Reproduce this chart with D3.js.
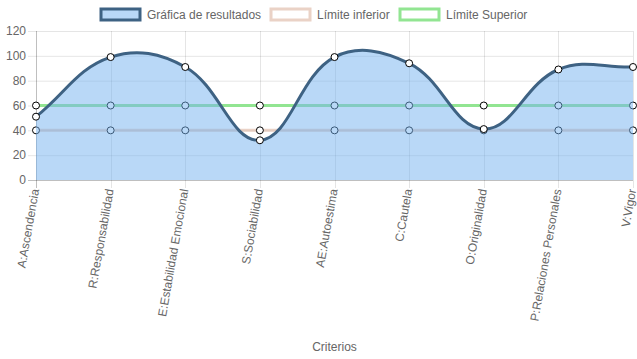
<!DOCTYPE html>
<html><head><meta charset="utf-8">
<script src="https://cdn.jsdelivr.net/npm/d3@7"></script>
<style>body{margin:0;background:#fff}svg{display:block}text{font-family:"Liberation Sans",Arial,sans-serif}</style>
</head><body><svg id="c" width="637" height="359"></svg>
<script>
const categories = ["A:Ascendencia","R:Responsabilidad","E:Estabilidad Emocional","S:Sociabilidad","AE:Autoestima","C:Cautela","O:Originalidad","P:Relaciones Personales","V:Vigor"];
const resultados = [51, 99, 91, 32, 99, 94, 41, 89, 91];
const limiteInferior = [40, 40, 40, 40, 40, 40, 40, 40, 40];
const limiteSuperior = [60, 60, 60, 60, 60, 60, 60, 60, 60];
const yTicks = [0, 20, 40, 60, 80, 100, 120];
const seriesNames = ["Gráfica de resultados", "Límite inferior", "Límite Superior"];

const svg = d3.select("#c");
const L = 36, R = 633, T = 31, B = 180;
const x = d3.scalePoint().domain(categories).range([L, R]);
const y = d3.scaleLinear().domain([0, 120]).range([B, T]);
const grey = "#666";

// grid
const g = svg.append("g");
g.selectAll(".hg").data(yTicks).join("line")
  .attr("x1", L - 8).attr("x2", R).attr("y1", d => y(d) + 0.5).attr("y2", d => y(d) + 0.5)
  .attr("stroke", d => d === 0 ? "rgba(0,0,0,0.25)" : "rgba(0,0,0,0.1)");
g.selectAll(".vg").data(categories).join("line")
  .attr("x1", d => Math.round(x(d)) + 0.5).attr("x2", d => Math.round(x(d)) + 0.5)
  .attr("y1", T).attr("y2", B + 8)
  .attr("stroke", (d, i) => i === 0 ? "rgba(0,0,0,0.25)" : "rgba(0,0,0,0.1)");

// y labels
svg.append("g").selectAll("text").data(yTicks).join("text")
  .attr("x", 26).attr("y", d => y(d)).attr("dy", "0.35em")
  .attr("text-anchor", "end").attr("font-size", 12).attr("fill", grey).text(d => d);

// x labels
svg.append("g").selectAll("text").data(categories).join("text")
  .attr("transform", d => `translate(${x(d) - 1},${B + 9}) rotate(-80)`)
  .attr("text-anchor", "end").attr("dy", "0.35em")
  .attr("font-size", 12).attr("fill", grey).text(d => d);

svg.append("text").attr("x", (L + R) / 2).attr("y", 351).attr("text-anchor", "middle")
  .attr("font-size", 12).attr("fill", grey).text("Criterios");

// Chart.js-like spline
function splinePath(vals) {
  const pts = vals.map((v, i) => [x(categories[i]), y(v)]);
  const t = 0.4;
  const cps = pts.map((p, i) => {
    const p0 = pts[i - 1] || p, p2 = pts[i + 1] || p;
    const d01 = Math.hypot(p[0] - p0[0], p[1] - p0[1]);
    const d12 = Math.hypot(p2[0] - p[0], p2[1] - p[1]);
    let s01 = d01 / (d01 + d12), s12 = d12 / (d01 + d12);
    if (isNaN(s01)) s01 = 0; if (isNaN(s12)) s12 = 0;
    const fa = t * s01, fb = t * s12;
    return {
      prev: [p[0] - fa * (p2[0] - p0[0]), p[1] - fa * (p2[1] - p0[1])],
      next: [p[0] + fb * (p2[0] - p0[0]), p[1] + fb * (p2[1] - p0[1])]
    };
  });
  const path = d3.path();
  path.moveTo(pts[0][0], pts[0][1]);
  for (let i = 1; i < pts.length; i++) {
    const a = cps[i - 1].next, b = cps[i].prev;
    path.bezierCurveTo(a[0], a[1], b[0], b[1], pts[i][0], pts[i][1]);
  }
  return { d: path.toString(), pts };
}

function drawSeries(vals, stroke, fill) {
  const sp = splinePath(vals);
  const grp = svg.append("g");
  if (fill) {
    grp.append("path").attr("d", sp.d + `L${sp.pts[sp.pts.length - 1][0]},${y(0)}L${sp.pts[0][0]},${y(0)}Z`)
      .attr("fill", fill);
  }
  grp.append("path").attr("d", sp.d).attr("fill", "none").attr("stroke", stroke).attr("stroke-width", 3);
  grp.selectAll("circle").data(sp.pts).join("circle")
    .attr("cx", d => d[0]).attr("cy", d => d[1]).attr("r", 3.5)
    .attr("fill", "#fff").attr("stroke", "#000").attr("stroke-width", 1);
}

const colors = [
  { stroke: "#3e6283", fill: "rgba(116,178,240,0.5)", box: "rgba(116,178,240,0.5)" },
  { stroke: "rgba(220,180,160,0.6)", fill: null, box: "#fff" },
  { stroke: "#92e592", fill: null, box: "#fff" }
];
drawSeries(limiteSuperior, colors[2].stroke, null);
drawSeries(limiteInferior, colors[1].stroke, null);
drawSeries(resultados, colors[0].stroke, colors[0].fill);

// legend
const legX = [101, 271, 400];
const leg = svg.append("g");
seriesNames.forEach((n, i) => {
  leg.append("rect").attr("x", legX[i]).attr("y", 9).attr("width", 39).attr("height", 11)
    .attr("fill", colors[i].box).attr("stroke", colors[i].stroke).attr("stroke-width", 3);
  leg.append("text").attr("x", legX[i] + 46).attr("y", 15).attr("dy", "0.35em")
    .attr("font-size", 12).attr("fill", grey).text(n);
});
</script></body></html>
